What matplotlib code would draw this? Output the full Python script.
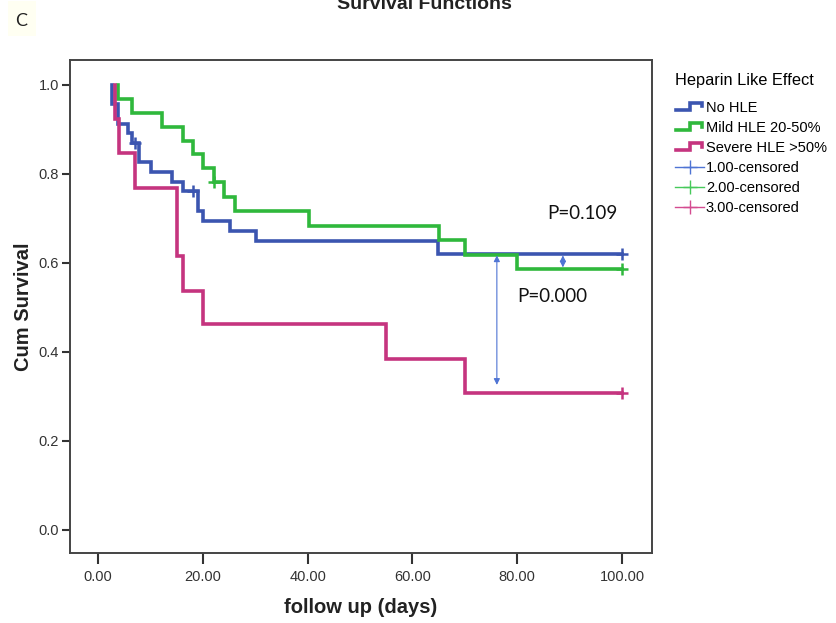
import matplotlib
matplotlib.use("Agg")
import matplotlib.pyplot as plt
from matplotlib.lines import Line2D
from matplotlib.legend_handler import HandlerBase
from matplotlib.patches import Rectangle

# ---- data ----
groups = ["No HLE", "Mild HLE 20-50%", "Severe HLE >50%"]
censor_labels = ["1.00-censored", "2.00-censored", "3.00-censored"]

blue_t = [2.7, 2.7, 3.8, 5.7, 6.5, 7.8, 10.1, 14.2, 16.3, 19.1, 20.0, 25.2, 30.2, 64.9, 100.0]
blue_s = [1.0, 0.957, 0.913, 0.891, 0.870, 0.826, 0.804, 0.783, 0.761, 0.716, 0.694, 0.672, 0.649, 0.620, 0.620]
blue_ct = [7.0, 18.2, 100.0]
blue_cs = [0.870, 0.761, 0.620]

green_t = [3.8, 3.8, 6.4, 12.2, 16.2, 18.1, 20.1, 22.2, 24.1, 26.1, 40.3, 65.1, 70.0, 80.0, 100.0]
green_s = [1.0, 0.969, 0.938, 0.906, 0.875, 0.844, 0.813, 0.781, 0.749, 0.716, 0.683, 0.651, 0.618, 0.586, 0.586]
green_ct = [22.2, 100.0]
green_cs = [0.781, 0.586]

mag_t = [3.2, 3.2, 4.1, 7.1, 15.0, 16.3, 20.1, 55.0, 70.0, 100.0]
mag_s = [1.0, 0.923, 0.846, 0.769, 0.615, 0.538, 0.462, 0.385, 0.308, 0.308]
mag_ct = [100.0]
mag_cs = [0.308]

x_ticks = [0, 20, 40, 60, 80, 100]
x_ticklabels = ["0.00", "20.00", "40.00", "60.00", "80.00", "100.00"]
y_ticks = [0.0, 0.2, 0.4, 0.6, 0.8, 1.0]
y_ticklabels = ["0.0", "0.2", "0.4", "0.6", "0.8", "1.0"]

p_labels = ["P=0.109", "P=0.000"]
p_pos = [(92.5, 0.71), (86.7, 0.524)]
arrow_long = (76.1, 0.617, 0.326)
arrow_short = (88.7, 0.617, 0.590)

# ---- style ----
C_BLUE = "#3b55b0"
C_GREEN = "#2fb83c"
C_MAG = "#c5347f"
C_BLUE_L = "#4f74d4"
C_GREEN_L = "#46c95a"
C_MAG_L = "#d44b90"

plt.rcParams['font.family'] = ['Liberation Sans', 'DejaVu Sans']

W, H = 836, 623
fig = plt.figure(figsize=(W / 100, H / 100), dpi=100)
ax = fig.add_axes([70 / W, (H - 553) / H, 582 / W, 493 / H])

lw = 2.6
for t, s, c in [(blue_t, blue_s, C_BLUE), (green_t, green_s, C_GREEN), (mag_t, mag_s, C_MAG)]:
    ax.step(t, s, where="post", color=c, lw=lw, solid_joinstyle="miter", zorder=3)
for ct, cs, c in [(blue_ct, blue_cs, C_BLUE), (green_ct, green_cs, C_GREEN), (mag_ct, mag_cs, C_MAG)]:
    ax.plot(ct, cs, ls="none", marker="+", ms=9, mew=1.8, color=c, zorder=4)

ax.set_xlim(-5.34, 105.7)
ax.set_ylim(-0.0517, 1.056)
ax.set_xticks(x_ticks)
ax.set_xticklabels(x_ticklabels)
ax.set_yticks(y_ticks)
ax.set_yticklabels(y_ticklabels)
ax.tick_params(axis="x", length=8, width=1.5, color="#333333", labelsize=10.5, labelcolor="#333333", pad=4)
ax.tick_params(axis="y", length=6, width=1.5, color="#333333", labelsize=10.5, labelcolor="#333333", pad=2)
for sp in ax.spines.values():
    sp.set_color("#444444")
    sp.set_linewidth(1.4)

ax.set_xlabel("follow up (days)", fontsize=14.5, fontweight="bold", color="#222222", labelpad=10)
ax.set_ylabel("Cum Survival", fontsize=14.5, fontweight="bold", color="#222222", labelpad=4)

# arrows
for (xa, y1, y2) in [arrow_long, arrow_short]:
    ax.annotate("", xy=(xa, y1), xytext=(xa, y2),
                arrowprops=dict(arrowstyle="<|-|>", color=C_BLUE_L, lw=0.8,
                                mutation_scale=9, shrinkA=0, shrinkB=0), zorder=5)

for lab, (px, py) in zip(p_labels, p_pos):
    ax.text(px, py, lab, fontsize=13.5, ha="center", va="center", color="#111111",
            family=["Lato", "DejaVu Sans"])

# title (cut off at top, as in the reference)
fig.text(424 / W, 1 - 9 / H, "Survival Functions", ha="center", va="baseline",
         fontsize=14, fontweight="bold", color="#222222")

# panel letter
fig.patches.append(Rectangle((8 / W, 1 - 36 / H), 28 / W, 35 / H, transform=fig.transFigure,
                             facecolor="#fffff2", edgecolor="none"))
fig.text(21 / W, 1 - 21 / H, "C", ha="center", va="center", fontsize=13,
         family=["Lato", "DejaVu Sans"], color="#222222")


# legend
class StepHandler(HandlerBase):
    def create_artists(self, legend, orig_handle, xdescent, ydescent, width, height, fontsize, trans):
        x0 = -xdescent
        y0 = -ydescent
        xs = [x0 + 0.05 * width, x0 + 0.5 * width, x0 + 0.5 * width, x0 + 0.92 * width, x0 + 0.92 * width]
        ys = [y0 + 0.15 * height, y0 + 0.15 * height, y0 + 0.85 * height, y0 + 0.85 * height, y0 + 0.5 * height]
        ln = Line2D(xs, ys, color=orig_handle.get_color(), lw=2.6, solid_joinstyle="miter",
                    transform=trans)
        return [ln]


step_handles = [Line2D([], [], color=c) for c in (C_BLUE, C_GREEN, C_MAG)]
cens_handles = [Line2D([], [], color=c, lw=1.0, marker="+", ms=10, mew=1.0)
                for c in (C_BLUE_L, C_GREEN_L, C_MAG_L)]
handler_map = {h: StepHandler() for h in step_handles}
leg = fig.legend(step_handles + cens_handles, groups + censor_labels,
                 handler_map=handler_map, loc="upper left",
                 bbox_to_anchor=(675 / W, 1 - 73 / H), frameon=False,
                 title="Heparin Like Effect", title_fontsize=11.8, fontsize=10.5,
                 handlelength=2.0, handletextpad=0.12, labelspacing=0.42,
                 borderpad=0, borderaxespad=0, alignment="left")
leg._legend_box.sep = 9

fig.savefig("out.png", dpi=100)
